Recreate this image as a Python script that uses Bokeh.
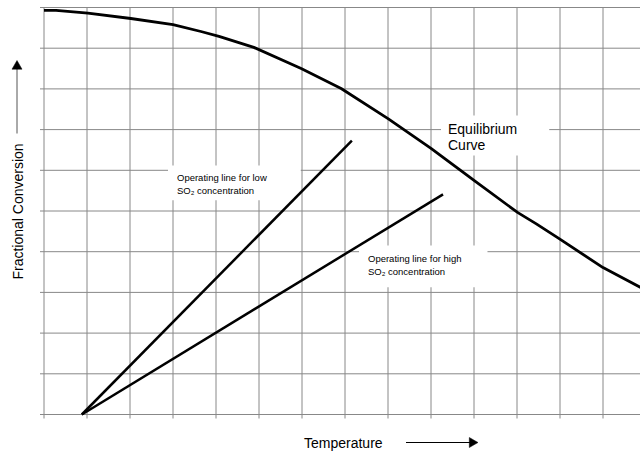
import math
from bokeh.plotting import figure
from bokeh.models import Label, Range1d
from bokeh.core.properties import value
from bokeh.embed import file_html
from bokeh.resources import INLINE

# Equilibrium curve (temperature in grid units, fractional conversion in grid units)
eq_x = [0, 0.28, 1.02, 2.02, 3.0, 3.65, 4.07, 4.88, 5.98, 6.91, 8.0, 9.0, 10.0, 11.02, 11.44, 11.98, 13.0, 13.88]
eq_y = [9.93, 9.93, 9.86, 9.73, 9.58, 9.41, 9.29, 9.02, 8.50, 8.01, 7.27, 6.54, 5.75, 4.96, 4.69, 4.32, 3.61, 3.12]

# Operating lines
low_x = [0.88, 7.16]
low_y = [0.0, 6.73]
high_x = [0.88, 9.28]
high_y = [0.0, 5.41]

# grid positions (no numeric tick labels in the original)
x_ticks = list(range(0, 14))
y_ticks = list(range(0, 11))
x_max = 13.884
y_max = 10

FONT = "Liberation Sans"
GRID = "#888888"

# scale: 43 px per x unit, 40.7 px per y unit; frame covers whole canvas
XS, YS = 43.0, 40.7
def px_x(px):
    return (px - 43) / XS
def px_y(py):
    return 10 - (py - 7) / YS

p = figure(width=640, height=452, output_backend="svg", toolbar_location=None,
           x_range=Range1d(-43.5 / XS, -43.5 / XS + 640 / XS),
           y_range=Range1d(10 - 445 / YS, 10 + 7 / YS),
           min_border=0)
p.axis.visible = False
p.grid.visible = False
p.outline_line_color = None
p.background_fill_color = "white"
p.border_fill_color = "white"

tick_x = 4 / XS
tick_y = 4 / YS
# vertical grid lines with their small tick below the bottom edge
p.segment(x0=x_ticks, y0=[-tick_y] * len(x_ticks), x1=x_ticks, y1=[y_max] * len(x_ticks),
          line_color=GRID, line_width=1, level="image")
# horizontal grid lines with their small tick left of the left edge
p.segment(x0=[-tick_x] * len(y_ticks), y0=y_ticks, x1=[x_max] * len(y_ticks), y1=y_ticks,
          line_color=GRID, line_width=1, level="image")

p.line(eq_x, eq_y, line_color="black", line_width=2.8, line_join="round")
p.line(low_x, low_y, line_color="black", line_width=2.5)
p.line(high_x, high_y, line_color="black", line_width=2.5)

def add_label(x, y, text, size, lh, pad):
    p.add_layout(Label(x=x, y=y, text=text, text_font=FONT, text_font_size=size,
                       text_baseline="top", text_align="left", text_line_height=lh,
                       background_fill_color="white", padding=pad, text_color="black",
                       level="underlay"))

add_label(px_x(167), px_y(165), "Operating line for low\nSO\u2082 concentration", "9.5px", 1.25,
          dict(left=9, right=34, top=6, bottom=4))
add_label(px_x(358), px_y(245), "Operating line for high\nSO\u2082 concentration", "9.5px", 1.25,
          dict(left=9, right=26, top=7, bottom=10))
add_label(px_x(440), px_y(115), "Equilibrium\nCurve", "14px", 1.0,
          dict(left=7, right=32, top=5, bottom=3))

# axis titles
p.text(x=[px_x(303)], y=[px_y(442)], text=["Temperature"],
       text_font=value(FONT), text_font_size="14px", text_color="black",
       text_align="left", text_baseline="alphabetic")
p.text(x=[px_x(17)], y=[px_y(211)], text=["Fractional Conversion"],
       text_font=value(FONT), text_font_size="14px", text_color="black",
       text_align="center", text_baseline="alphabetic", angle=math.pi / 2)

# direction arrows
hy = px_y(442)
p.segment(x0=[px_x(405)], y0=[hy], x1=[px_x(469)], y1=[hy], line_color="black", line_width=1)
p.scatter(x=[px_x(471.2)], y=[hy], marker="triangle", size=10, angle=-math.pi / 2,
          fill_color="black", line_color="black", line_width=0.5)
vx = px_x(16)
p.segment(x0=[vx], y0=[px_y(133)], x1=[vx], y1=[px_y(68)], line_color="#555555", line_width=1)
p.scatter(x=[vx], y=[px_y(65.8)], marker="triangle", size=10,
          fill_color="black", line_color="black", line_width=0.5)

open("out.html", "w").write(file_html(p, INLINE))
